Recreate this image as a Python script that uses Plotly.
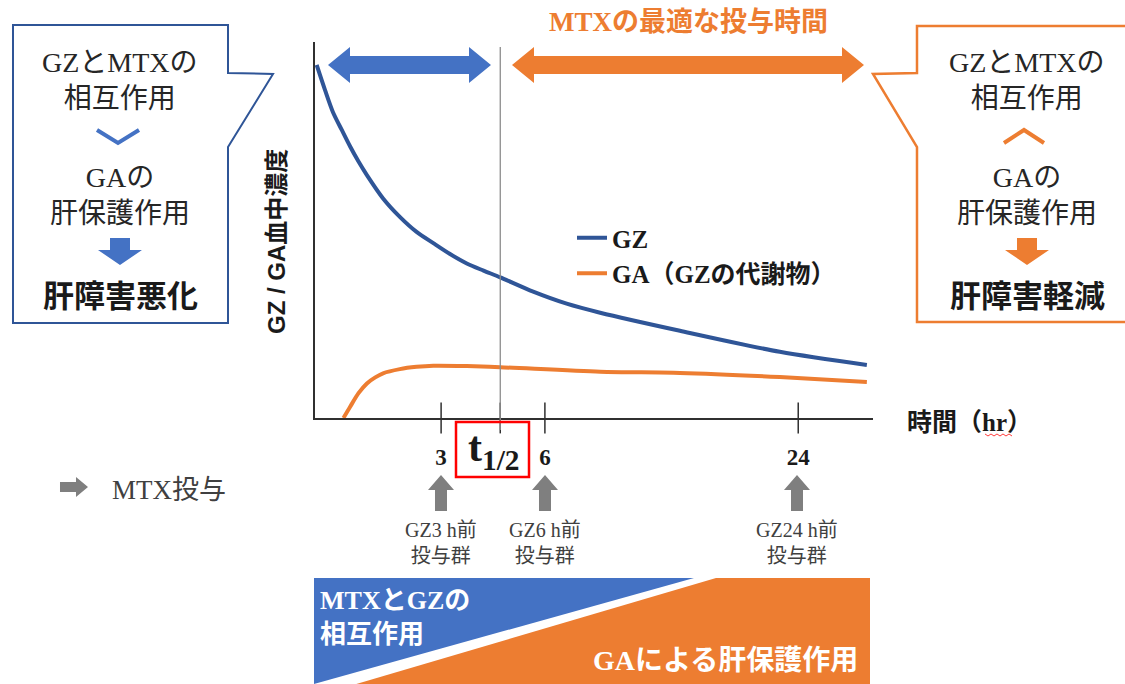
import plotly.graph_objects as go

# ---- data (schematic time axis: 0-100 position units, concentration 0-100) ----
gz_x = [0.3, 1.8, 3.2, 4.8, 6.3, 7.8, 9.3, 12.2, 15.2, 18.2, 21.2, 24.2, 27.2, 30.2,
        33.2, 39.1, 45.1, 51.1, 65.4, 83.3, 98.9]
gz_y = [93.9, 87.2, 81.4, 76.6, 72.2, 68.2, 64.6, 58.4, 53.5, 49.5, 46.5, 43.6, 41.1, 39.2,
        37.4, 33.6, 30.4, 28.0, 23.2, 17.6, 14.1]

ga_x = [5.1, 6.3, 7.8, 9.3, 10.8, 12.2, 15.2, 18.2, 21.2, 27.2, 33.2, 51.1, 65.4, 83.3, 98.9]
ga_y = [0.0, 3.0, 6.6, 9.2, 10.8, 11.9, 13.0, 13.6, 13.9, 13.8, 13.5, 12.3, 12.0, 10.9, 9.6]

tick_pos = [22.6, 41.2, 86.6]
tick_labels = ["3", "6", "24"]
t_half = 33.2

series_names = ["GZ", "GA（GZの代謝物）"]

BLUE = "#4472C4"
NAVY = "#2F5597"
ORANGE = "#ED7D31"
GRAY = "#7F7F7F"
TXT = "#262626"

SERIF_JP = "Liberation Serif, Noto Sans CJK JP"
SANS_JP = "Noto Sans CJK JP, Liberation Sans"

# plot area in page pixels
L, T, R, B = 315, 42, 873, 418
W, H = R - L, B - T


def px(x):
    return (x - L) / W


def py(y):
    return (B - y) / H


def path(points, close=True):
    s = "M " + " L ".join(f"{px(x):.5f},{py(y):.5f}" for x, y in points)
    return s + (" Z" if close else "")


def dbl_arrow(x0, x1, yc, hl=22, hh=18, sh=9):
    return [(x0, yc), (x0 + hl, yc - hh), (x0 + hl, yc - sh), (x1 - hl, yc - sh),
            (x1 - hl, yc - hh), (x1, yc), (x1 - hl, yc + hh), (x1 - hl, yc + sh),
            (x0 + hl, yc + sh), (x0 + hl, yc + hh)]


def up_arrow(xc, yt, yb, hw=13, hl=15, sw=6):
    return [(xc, yt), (xc + hw, yt + hl), (xc + sw, yt + hl), (xc + sw, yb),
            (xc - sw, yb), (xc - sw, yt + hl), (xc - hw, yt + hl)]


def down_arrow(xc, yt, yb, hw=22, hl=15, sw=10):
    return [(xc - sw, yt), (xc + sw, yt), (xc + sw, yb - hl), (xc + hw, yb - hl),
            (xc, yb), (xc - hw, yb - hl), (xc - sw, yb - hl)]


def right_arrow(x0, x1, yc, hl=12, hh=10, sh=5):
    return [(x0, yc - sh), (x1 - hl, yc - sh), (x1 - hl, yc - hh), (x1, yc),
            (x1 - hl, yc + hh), (x1 - hl, yc + sh), (x0, yc + sh)]


fig = go.Figure()

fig.add_trace(go.Scatter(x=gz_x, y=gz_y, mode="lines", name=series_names[0],
                         line=dict(color=NAVY, width=4, shape="spline", smoothing=0.8),
                         legendgroup="gz", hoverinfo="skip"))
fig.add_trace(go.Scatter(x=ga_x, y=ga_y, mode="lines", name=series_names[1],
                         line=dict(color=ORANGE, width=4, shape="spline", smoothing=0.8),
                         legendgroup="ga", hoverinfo="skip"))
# tick marks crossing the time axis
fig.add_trace(go.Scatter(x=tick_pos + [t_half], y=[0] * (len(tick_pos) + 1), mode="markers",
                         marker=dict(symbol="line-ns", size=22, line=dict(color="#303030", width=1.5)),
                         cliponaxis=False, showlegend=False, hoverinfo="skip"))

shapes = []
# half-life vertical line
shapes.append(dict(type="line", xref="x", yref="paper", x0=t_half, x1=t_half,
                   y0=py(430), y1=py(47), line=dict(color="#8C8C8C", width=1.3)))
# top double arrows
shapes.append(dict(type="path", xref="paper", yref="paper", path=path(dbl_arrow(328, 491, 65)),
                   fillcolor=BLUE, line=dict(width=0)))
shapes.append(dict(type="path", xref="paper", yref="paper", path=path(dbl_arrow(512, 864, 65)),
                   fillcolor=ORANGE, line=dict(width=0)))
# callout boxes
shapes.append(dict(type="path", xref="paper", yref="paper",
                   path=path([(13, 25), (228, 25), (228, 73), (273, 74), (228, 147), (228, 323), (13, 323)]),
                   line=dict(color=NAVY, width=2), fillcolor="rgba(0,0,0,0)"))
shapes.append(dict(type="path", xref="paper", yref="paper",
                   path=path([(1140, 26), (917, 26), (917, 73), (873, 74), (917, 147), (917, 322), (1140, 322)]),
                   line=dict(color=ORANGE, width=2.5), fillcolor="rgba(0,0,0,0)"))
# chevrons and arrows inside callouts
shapes.append(dict(type="path", xref="paper", yref="paper",
                   path=path([(97, 130), (118, 143), (139, 130)], close=False),
                   line=dict(color=BLUE, width=4)))
shapes.append(dict(type="path", xref="paper", yref="paper",
                   path=path([(1004, 143), (1024, 130), (1044, 143)], close=False),
                   line=dict(color=ORANGE, width=4)))
shapes.append(dict(type="path", xref="paper", yref="paper", path=path(down_arrow(120, 238, 265)),
                   fillcolor=BLUE, line=dict(width=0)))
shapes.append(dict(type="path", xref="paper", yref="paper", path=path(down_arrow(1027, 238, 265)),
                   fillcolor=ORANGE, line=dict(width=0)))
# MTX dosing arrows
for xc in [441, 545, 797]:
    shapes.append(dict(type="path", xref="paper", yref="paper", path=path(up_arrow(xc, 475, 511)),
                       fillcolor=GRAY, line=dict(width=0)))
shapes.append(dict(type="path", xref="paper", yref="paper", path=path(right_arrow(60, 88, 487)),
                   fillcolor=GRAY, line=dict(width=0)))
# half-life box
shapes.append(dict(type="rect", xref="paper", yref="paper", x0=px(456), x1=px(529),
                   y0=py(477), y1=py(422), line=dict(color="#FF0000", width=2.5)))
# bottom band
shapes.append(dict(type="path", xref="paper", yref="paper",
                   path=path([(314, 578), (694, 578), (314, 684)]), fillcolor=BLUE, line=dict(width=0)))
shapes.append(dict(type="path", xref="paper", yref="paper",
                   path=path([(716, 578), (870, 578), (870, 690), (336, 690)]), fillcolor=ORANGE, line=dict(width=0)))
# spell-check squiggle under "hr"
zig = [(985 + 3 * i, 434 + (2 if i % 2 else 0)) for i in range(10)]
shapes.append(dict(type="path", xref="paper", yref="paper", path=path(zig, close=False),
                   line=dict(color="#FF3B3B", width=1)))

ann = []


def text(x, y, s, size, color=TXT, family=SERIF_JP, bold=False, xanchor="center", angle=0):
    ann.append(dict(x=px(x), y=py(y), xref="paper", yref="paper", text=s, showarrow=False,
                    xanchor=xanchor, yanchor="middle", textangle=angle, align=xanchor if xanchor != "right" else "right",
                    font=dict(size=size, color=color, family=family, weight="bold" if bold else "normal")))


text(688, 22, "MTXの最適な投与時間", 27, color=ORANGE, bold=True)

for cx in (120, 1027):
    text(cx, 80, "GZとMTXの<br>相互作用", 28)
    text(cx, 196, "GAの<br>肝保護作用", 28)
text(120, 293, "肝障害悪化", 31, color="#1A1A1A", family=SANS_JP, bold=True)
text(1027, 293, "肝障害軽減", 31, color="#1A1A1A", family=SANS_JP, bold=True)

text(276, 242, "GZ / GA血中濃度", 24, color="#1A1A1A", family="Liberation Sans, Noto Sans CJK JP",
     bold=True, angle=-90)
text(905, 422, "時間（hr）", 25, color="#1A1A1A", bold=True, xanchor="left")
text(494, 450, "t<sub>1/2</sub>", 42, color="#1A1A1A", bold=True)

for xc, lab in zip([441, 545, 797], ["GZ3 h前", "GZ6 h前", "GZ24 h前"]):
    text(xc, 543, lab + "<br>投与群", 20, color="#404040")

text(110, 490, "MTX投与", 27, color="#404040", xanchor="left")

text(318, 617, "MTXとGZの<br>相互作用", 26, color="white", bold=True, xanchor="left")
text(860, 660, "GAによる肝保護作用", 28, color="white", bold=True, xanchor="right")

fig.update_layout(
    width=1125, height=684, autosize=False,
    margin=dict(l=L, r=1125 - R, t=T, b=684 - B),
    paper_bgcolor="white", plot_bgcolor="white",
    shapes=shapes, annotations=ann,
    showlegend=True,
    legend=dict(x=px(572), y=py(215), xanchor="left", yanchor="top",
                bgcolor="rgba(0,0,0,0)", tracegroupgap=0, itemwidth=30,
                font=dict(size=25, family=SERIF_JP, color="#1A1A1A", weight="bold")),
    xaxis=dict(range=[0, 100], showgrid=False, zeroline=False, showline=True,
               linecolor="#303030", linewidth=1.5, ticks="",
               tickvals=tick_pos, ticktext=tick_labels, ticklabelstandoff=18,
               tickfont=dict(size=23, family="Liberation Serif", color="#1A1A1A", weight="bold")),
    yaxis=dict(range=[0, 100], showgrid=False, zeroline=False, showline=True,
               linecolor="#303030", linewidth=1.5, ticks="", showticklabels=False),
)

fig.write_html("out.html")
